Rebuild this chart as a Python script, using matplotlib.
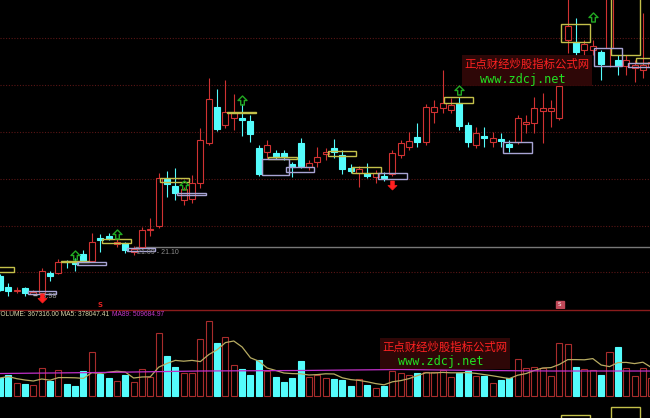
import matplotlib
matplotlib.use('Agg')
import matplotlib.pyplot as plt
import numpy as np
import pandas as pd
from matplotlib.patches import Rectangle
from matplotlib.path import Path
from matplotlib.lines import Line2D

# ---------------- data ----------------
opens = [19.85, 19.38, 19.23, 19.34, 19.08, 19.13, 19.98, 19.98, 20.49, 20.45,
         20.79, 20.49, 21.47, 21.55, 21.21, 21.26, 20.87, 21.09, 21.83, 21.98,
         23.98, 23.68, 23.09, 23.13, 23.81, 25.52, 27.05, 26.28, 26.58, 26.58,
         26.45, 25.30, 25.13, 25.09, 25.09, 24.62, 25.52, 24.49, 24.71, 25.05,
         25.30, 25.00, 24.45, 24.24, 24.24, 24.07, 24.11, 24.19, 25.00, 25.34,
         25.77, 25.56, 26.83, 27.00, 26.92, 27.22, 26.28, 25.43, 25.81, 25.56,
         25.69, 25.47, 25.56, 26.32, 26.37, 26.88, 26.88, 26.58, 29.90, 29.82,
         29.48, 29.48, 29.39, 29.56, 29.05, 28.79, 28.71, 28.62, 28.75]
highs = [19.94, 19.55, 19.38, 19.38, 19.25, 20.19, 20.06, 20.57, 20.53, 20.62,
         20.96, 21.68, 21.64, 21.68, 21.43, 21.30, 21.13, 21.94, 22.32, 24.24,
         24.32, 24.45, 23.64, 24.15, 26.15, 28.28, 27.81, 28.20, 27.60, 27.18,
         26.71, 25.43, 25.64, 25.22, 25.22, 24.71, 25.73, 24.79, 25.34, 25.30,
         25.69, 25.22, 24.62, 24.54, 24.66, 24.37, 24.28, 25.22, 25.64, 25.98,
         26.37, 27.18, 27.35, 28.62, 27.43, 27.47, 26.41, 26.20, 26.20, 25.98,
         25.94, 25.64, 26.71, 26.71, 27.47, 27.64, 27.35, 28.07, 31.80, 30.84,
         29.90, 29.90, 29.48, 32.40, 29.26, 29.26, 29.05, 31.05, 29.30]
lows = [19.21, 18.98, 19.13, 19.00, 19.04, 19.08, 19.64, 19.94, 20.19, 20.06,
        20.45, 20.45, 20.87, 21.38, 21.09, 20.83, 20.75, 21.00, 21.55, 21.89,
        23.21, 23.09, 22.87, 22.96, 23.60, 25.43, 26.03, 26.15, 26.07, 25.81,
        25.56, 24.11, 24.88, 24.83, 24.79, 24.07, 24.45, 24.37, 24.49, 24.79,
        24.88, 24.19, 24.24, 23.64, 24.02, 23.81, 23.90, 24.11, 24.88, 25.22,
        25.34, 25.43, 26.37, 26.79, 26.79, 26.07, 25.34, 25.30, 25.34, 25.34,
        25.34, 25.13, 25.47, 25.94, 25.94, 25.52, 26.20, 26.49, 29.35, 29.26,
        29.26, 29.26, 28.20, 28.75, 28.41, 28.41, 28.11, 28.28, 28.60]
closes = [19.25, 19.21, 19.25, 19.13, 19.17, 20.06, 19.85, 20.45, 20.43, 20.36,
          20.49, 21.30, 21.38, 21.43, 21.30, 20.96, 21.00, 21.81, 21.87, 24.02,
          23.77, 23.39, 23.56, 23.81, 25.64, 27.39, 26.11, 26.83, 26.79, 26.49,
          25.90, 24.19, 25.43, 24.92, 24.92, 24.49, 24.54, 24.66, 24.92, 25.13,
          25.13, 24.41, 24.32, 24.41, 24.11, 24.24, 24.02, 25.09, 25.52, 25.60,
          25.56, 27.05, 27.05, 27.22, 27.13, 26.24, 25.56, 25.94, 25.73, 25.73,
          25.60, 25.34, 26.58, 26.41, 27.00, 27.00, 27.00, 27.94, 30.50, 29.39,
          29.73, 29.65, 28.88, 32.20, 28.79, 29.05, 28.84, 28.84, 28.96]
volumes = [367200, 428400, 265200, 244800, 224400, 571200, 306000, 530400, 244800, 204000,
           510000, 897600, 448800, 367200, 306000, 428400, 285600, 550800, 387600, 1285200,
           816000, 591600, 469200, 469200, 1162800, 1530000, 1081200, 1203600, 632400, 550800,
           428400, 734400, 510000, 387600, 285600, 367200, 714000, 387600, 428400, 367200,
           346800, 326400, 204000, 346800, 224400, 163200, 204000, 510000, 469200, 428400,
           469200, 489600, 489600, 530400, 387600, 469200, 510000, 408000, 408000, 265200,
           326400, 367200, 754800, 571200, 591600, 571200, 408000, 1081200, 1060800, 591600,
           550800, 530400, 428400, 897600, 999600, 571200, 408000, 571200, 367316]
ma89_idx = [0, 12, 24, 36, 48, 58, 66, 78]
ma89_val = [459000, 479400, 510000, 520200, 540600, 520200, 510000, 509685]

# indicator boxes: (start index, end index, top price, bottom price)
yellow_boxes = [(-1.8, 1.7, 20.23, 20.02), (7.3, 10.7, 20.49, 20.45),
                (12.2, 15.7, 21.43, 21.26), (19.2, 22.6, 24.02, 23.85),
                (27.2, 30.7, 26.83, 26.79), (32.1, 35.6, 24.92, 24.83),
                (39.3, 42.6, 25.17, 24.96), (42.2, 45.6, 24.49, 24.24),
                (53.2, 56.6, 27.47, 27.22), (67.2, 70.7, 30.58, 29.82),
                (73.2, 76.6, 31.90, 29.26), (76.2, 79.6, 29.13, 28.92)]
lav_boxes = [(3.35, 6.7, 19.21, 19.08), (9.2, 12.7, 20.45, 20.32),
             (15.2, 18.6, 21.04, 20.92), (21.2, 24.7, 23.39, 23.30),
             (31.4, 34.6, 24.83, 24.15), (34.3, 37.6, 24.49, 24.28),
             (45.3, 48.7, 24.24, 23.98), (60.2, 63.7, 25.56, 25.09),
             (71.1, 74.5, 29.56, 28.79), (75.2, 78.7, 28.92, 28.75)]
vol_boxes = [(67.2, 70.7, -387600), (73.2, 76.6, -224400)]
up_arrow_idx = [9, 14, 22, 29, 55, 71]
up_arrow_price = [20.75, 21.66, 23.73, 27.33, 27.77, 30.86]
down_arrow_idx = [5, 47]
down_arrow_price = [18.91, 23.73]
grid_prices = [20, 22, 24, 26, 28, 30]
level_price = 21.10
level_label = '21.09 - 21.10'
low_label = '18.98'

# ---------------- styling ----------------
RED = '#d03232'
VRED = '#a82c2c'
CYAN = '#54fcfc'
YEL = '#c4c04a'
LAV = '#a8a4d4'
W = 0.72
LW = 0.8
SMALL = ['Liberation Sans', 'DejaVu Sans']

n = len(opens)
o = np.array(opens); h = np.array(highs); l = np.array(lows); c = np.array(closes)
v = np.array(volumes, dtype=float)
up = c >= o

fig = plt.figure(figsize=(6.5, 4.18), dpi=100, facecolor='black')
ax = fig.add_axes([0, 109/418, 1, 309/418], facecolor='black')
ax2 = fig.add_axes([0, 0, 1, 109/418], facecolor='black')
for a in (ax, ax2):
    a.set_axis_off()
    a.set_xlim(0, 77.85)
ax.set_ylim(18.445, 31.605)
ax2.set_ylim(-448800, 1774800)

# grid
for g in grid_prices:
    ax.axhline(g, color='#5a1616', lw=0.8, ls=(0, (1, 1.5)), zorder=0)
ax.hlines(level_price, 16.2, 80, color='#787878', lw=1.0, zorder=1)
ax.text(16.45, 20.86, level_label, color='#8c8c8c', fontsize=5.0,
        family=SMALL, va='center', ha='left', zorder=5)

# candles
for i in range(n):
    col = RED if up[i] else CYAN
    top = max(o[i], c[i]); bot = min(o[i], c[i])
    ax.vlines(i, top, h[i], color=col, lw=LW, zorder=3)
    ax.vlines(i, l[i], bot, color=col, lw=LW, zorder=3)
    ht = max(top - bot, 0.005)
    if up[i]:
        ax.add_patch(Rectangle((i - W/2, bot), W, ht, facecolor='black',
                               edgecolor=col, lw=LW, zorder=3))
    else:
        ax.add_patch(Rectangle((i - W/2, bot), W, ht, facecolor=col,
                               edgecolor=col, lw=LW, zorder=3))

# boxes
for x0, x1, t, b in yellow_boxes:
    ax.add_patch(Rectangle((x0, b), x1 - x0, t - b, fill=False, edgecolor=YEL, lw=1.0, zorder=4))
for x0, x1, t, b in lav_boxes:
    ax.add_patch(Rectangle((x0, b), x1 - x0, t - b, fill=False, edgecolor=LAV, lw=1.0, zorder=4))

# arrows
up_path = Path([(-0.2, -0.5), (0.2, -0.5), (0.2, 0.0), (0.5, 0.0), (0.0, 0.5),
                (-0.5, 0.0), (-0.2, 0.0), (-0.2, -0.5)], closed=True)
dn_path = Path([(-0.2, 0.5), (0.2, 0.5), (0.2, 0.0), (0.5, 0.0), (0.0, -0.5),
                (-0.5, 0.0), (-0.2, 0.0), (-0.2, 0.5)], closed=True)
ax.plot(up_arrow_idx, up_arrow_price, ls='none', marker=up_path, ms=6.5,
        mfc='none', mec='#22a822', mew=1.0, zorder=5)
ax.plot(down_arrow_idx, down_arrow_price, ls='none', marker=dn_path, ms=6.5,
        mfc='#ff2020', mec='#ff2020', mew=0.5, zorder=6)

# low label
ax.hlines(19.04, 3.95, 4.45, color='#b0b0b0', lw=1.0, zorder=4)
ax.text(4.6, 18.96, low_label, color='#9a9a9a', fontsize=5.3,
        family=SMALL, va='center', ha='left', zorder=5)

# signal markers at the bottom of the price panel
ax.text(12, 18.62, 'S', color='#e02020', fontsize=5, ha='center', va='center',
        fontweight='bold')
ax.add_patch(Rectangle((66.6, 18.48), 0.9, 0.3, facecolor='#c04858', edgecolor='#c04858', zorder=5))
ax.text(67.05, 18.63, 'S', color='white', fontsize=4, ha='center', va='center', zorder=6)

# volume bars
for i in range(n):
    if up[i]:
        ax2.add_patch(Rectangle((i - W/2, 0), W, v[i], facecolor='black',
                                edgecolor=VRED, lw=LW, zorder=2))
    else:
        ax2.add_patch(Rectangle((i - W/2, 0), W, v[i], facecolor=CYAN,
                                edgecolor=CYAN, lw=LW, zorder=2))
ma5 = pd.Series(v).rolling(5, min_periods=1).mean()
ax2.plot(np.arange(n), ma5, color='#b8ac62', lw=0.9, zorder=3)
ax2.plot(ma89_idx, ma89_val, color='#c030c8', lw=0.9, zorder=3)
for x0, x1, t in vol_boxes:
    ax2.add_patch(Rectangle((x0, -600000), x1 - x0, t + 600000, fill=False,
                            edgecolor=YEL, lw=1.0, zorder=4))

# separator
fig.add_artist(Line2D([0, 1], [1 - 309.5/418] * 2, color='#8a1c1c', lw=1.0))

# volume label
ly = 1 - 314/418
fig.text(-4/650, ly, 'VOLUME: 367316.00 MA5: 378047.41', color='#d8d4a8', fontsize=4.8,
         family=SMALL, va='center', ha='left')
fig.text(112/650, ly, 'MA89: 509684.97', color='#c038c8', fontsize=4.8,
         family=SMALL, va='center', ha='left')

# watermarks
def watermark(x0, y0):
    fig.add_artist(Rectangle((x0/650, 1 - (y0 + 31)/418), 130/650, 31/418,
                             transform=fig.transFigure, facecolor='#340808',
                             edgecolor='none', alpha=0.9, zorder=6))
    fig.text((x0 + 2)/650, 1 - (y0 + 9)/418, '正点财经炒股指标公式网', color='#ff2222',
             fontsize=8.2, family=['Noto Sans CJK SC', 'DejaVu Sans'],
             va='center', ha='left', zorder=7)
    fig.text((x0 + 18)/650, 1 - (y0 + 24)/418, 'www.zdcj.net', color='#22e022',
             fontsize=8.6, family=['DejaVu Sans Mono'], va='center', ha='left', zorder=7)

watermark(462, 55)
watermark(380, 338)

fig.savefig('out.png', dpi=100, facecolor='black')
